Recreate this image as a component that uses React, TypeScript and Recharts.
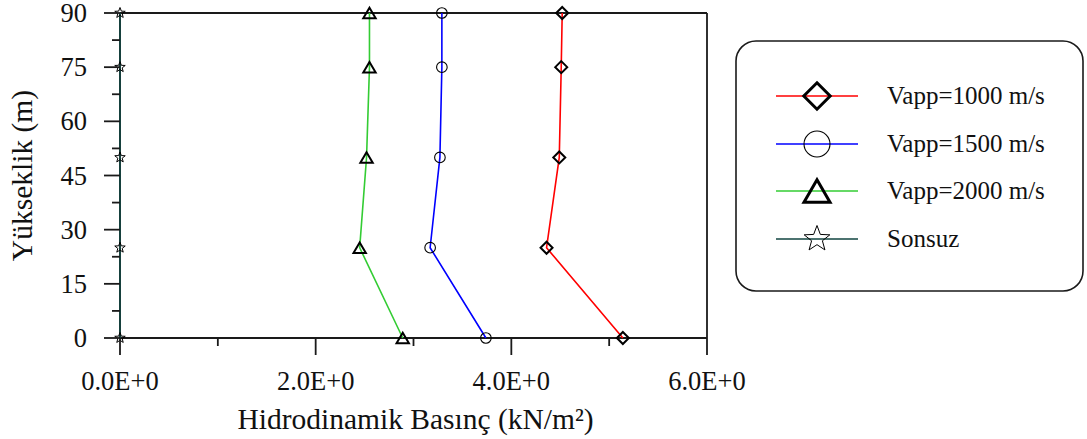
import { ScatterChart, Scatter, XAxis, YAxis, ReferenceLine, Legend } from 'recharts';

// heights (m) and pressure values (kN/m²)
const heights = [0, 25, 50, 75, 90];
const vapp1000 = [5.14, 4.36, 4.49, 4.51, 4.52];
const vapp1500 = [3.74, 3.17, 3.27, 3.29, 3.29];
const vapp2000 = [2.89, 2.45, 2.52, 2.55, 2.55];
const sonsuz = [0, 0, 0, 0, 0];

const xMajor = [0, 2, 4, 6];
const xLabels = ['0.0E+0', '2.0E+0', '4.0E+0', '6.0E+0'];
const xMinor = [1, 3, 5];
const yMajor = [0, 15, 30, 45, 60, 75, 90];
const yLabels = ['0', '15', '30', '45', '60', '75', '90'];
const yMinor = [7.5, 22.5, 37.5, 52.5, 67.5, 82.5];

const FONT = '"Liberation Serif", "Times New Roman", serif';
const AXIS = '#1a1a1a';
const TXT = '#111';

type Kind = 'diamond' | 'circle' | 'triangle' | 'star';

const series: { name: string; values: number[]; color: string; kind: Kind }[] = [
  { name: 'Vapp=1000 m/s', values: vapp1000, color: '#ff0000', kind: 'diamond' },
  { name: 'Vapp=1500 m/s', values: vapp1500, color: '#0000ff', kind: 'circle' },
  { name: 'Vapp=2000 m/s', values: vapp2000, color: '#33cc33', kind: 'triangle' },
  { name: 'Sonsuz', values: sonsuz, color: '#104540', kind: 'star' },
];

const toPoints = (vals: number[]) => vals.map((v, i) => ({ x: v, y: heights[i] }));

function starPoints(cx: number, cy: number, R: number) {
  const r = R * 0.42;
  const pts: string[] = [];
  for (let i = 0; i < 10; i++) {
    const rad = i % 2 === 0 ? R : r;
    const a = -Math.PI / 2 + (i * Math.PI) / 5;
    pts.push(`${cx + rad * Math.cos(a)},${cy + rad * Math.sin(a)}`);
  }
  return pts.join(' ');
}

function Marker({ kind, cx, cy, big }: { kind: Kind; cx: number; cy: number; big?: boolean }) {
  const k = big ? 2.2 : 1;
  if (kind === 'diamond') {
    const h = 6 * k;
    return (
      <polygon
        points={`${cx},${cy - h} ${cx + h},${cy} ${cx},${cy + h} ${cx - h},${cy}`}
        fill="none"
        stroke="#000"
        strokeWidth={big ? 3 : 2}
      />
    );
  }
  if (kind === 'circle') {
    return <circle cx={cx} cy={cy} r={5.3 * (big ? 2.45 : 1)} fill="none" stroke="#000" strokeWidth={1.1} />;
  }
  if (kind === 'triangle') {
    const w = 6.2 * (big ? 2.1 : 1);
    const h = 10.5 * (big ? 2.15 : 1);
    return (
      <polygon
        points={`${cx},${cy - h / 2} ${cx + w},${cy + h / 2} ${cx - w},${cy + h / 2}`}
        fill="none"
        stroke="#000"
        strokeWidth={big ? 3 : 2}
        strokeLinejoin="miter"
      />
    );
  }
  return <polygon points={starPoints(cx, cy, big ? 13.5 : 5.5)} fill="none" stroke="#000" strokeWidth={1} />;
}

const XTick = (props: any) => {
  const { x, y, payload } = props;
  const v = payload.value;
  const idx = xMajor.indexOf(v);
  const major = idx >= 0;
  return (
    <g>
      <line x1={x} x2={x} y1={y} y2={y + (major ? 17 : 8)} stroke={AXIS} strokeWidth={1.8} />
      {major && (
        <text x={x} y={y + 52} textAnchor="middle" fontSize={26.5} fontFamily={FONT} fill={TXT}>
          {xLabels[idx]}
        </text>
      )}
    </g>
  );
};

const YTick = (props: any) => {
  const { x, y, payload } = props;
  const v = payload.value;
  const idx = yMajor.indexOf(v);
  const major = idx >= 0;
  return (
    <g>
      <line x1={x} x2={x - (major ? 16 : 8)} y1={y} y2={y} stroke={AXIS} strokeWidth={1.8} />
      {major && (
        <text x={x - 33} y={y + 9} textAnchor="end" fontSize={26.5} fontFamily={FONT} fill={TXT}>
          {yLabels[idx]}
        </text>
      )}
    </g>
  );
};

const renderLegend = () => {
  const rows = [56, 104, 151, 199];
  return (
    <svg width={350} height={254} style={{ display: 'block' }}>
      <rect x={1} y={1} width={347} height={250} rx={20} ry={20} fill="#fff" stroke={AXIS} strokeWidth={1.6} />
      {series.map((s, i) => (
        <g key={s.name}>
          <line x1={41} x2={123} y1={rows[i]} y2={rows[i]} stroke={s.color} strokeWidth={1.6} />
          <Marker kind={s.kind} cx={82} cy={rows[i]} big />
          <text x={152} y={rows[i] + 8} fontSize={25} fontFamily={FONT} fill={TXT}>
            {s.name}
          </text>
        </g>
      ))}
    </svg>
  );
};

export default function App() {
  return (
    <div style={{ position: 'absolute', left: 0, top: 0, width: 1087, height: 439, background: '#fff' }}>
      <ScatterChart width={1087} height={439} margin={{ top: 13, right: 380, bottom: 0, left: 0 }}>
        <XAxis
          type="number"
          dataKey="x"
          domain={[0, 6]}
          ticks={[...xMajor, ...xMinor].sort((a, b) => a - b)}
          interval={0}
          height={101}
          tickSize={0}
          tickMargin={0}
          tickLine={false}
          tick={XTick}
          axisLine={{ stroke: AXIS, strokeWidth: 1.8 }}
          label={{
            content: (p: any) => {
              const vb = p.viewBox;
              return (
                <text x={vb.x + vb.width / 2 + 2} y={429} textAnchor="middle" fontSize={29.5} fontFamily={FONT} fill={TXT}>
                  Hidrodinamik Basınç (kN/m²)
                </text>
              );
            },
          }}
        />
        <YAxis
          type="number"
          dataKey="y"
          domain={[0, 90]}
          ticks={[...yMajor, ...yMinor].sort((a, b) => a - b)}
          interval={0}
          width={120}
          tickSize={0}
          tickMargin={0}
          tickLine={false}
          tick={YTick}
          axisLine={{ stroke: AXIS, strokeWidth: 1.8 }}
          label={{
            content: (p: any) => {
              const vb = p.viewBox;
              const cy = vb.y + vb.height / 2;
              return (
                <text
                  x={32}
                  y={cy}
                  transform={`rotate(-90 32 ${cy})`}
                  textAnchor="middle"
                  fontSize={29.5}
                  fontFamily={FONT}
                  fill={TXT}
                >
                  Yükseklik (m)
                </text>
              );
            },
          }}
        />
        <ReferenceLine x={6} stroke={AXIS} strokeWidth={1.8} />
        <ReferenceLine y={90} stroke={AXIS} strokeWidth={1.8} />
        {series.map((s) => (
          <Scatter
            key={s.name}
            name={s.name}
            data={toPoints(s.values)}
            fill={s.color}
            line={{ stroke: s.color, strokeWidth: 1.6 }}
            lineType="joint"
            isAnimationActive={false}
            shape={(p: any) => <Marker kind={s.kind} cx={p.cx} cy={p.cy} />}
          />
        ))}
        <Legend
          layout="vertical"
          align="center"
          verticalAlign="middle"
          content={renderLegend}
          wrapperStyle={{ left: 735, top: 40, width: 350, height: 254 }}
        />
      </ScatterChart>
    </div>
  );
}
